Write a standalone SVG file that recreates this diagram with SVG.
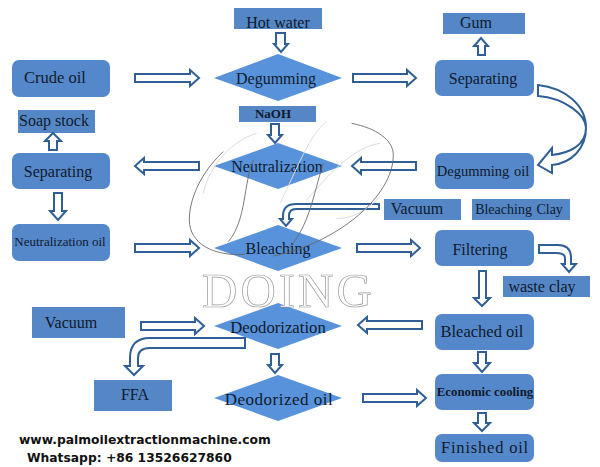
<svg xmlns="http://www.w3.org/2000/svg" width="600" height="467" viewBox="0 0 600 467">
<style>
.box{fill:#5587c6}
.rbox{fill:#5588ca}
.dia{fill:#5792db}
.t{font-family:"Liberation Serif",serif;font-size:16px;fill:#0f1a2c;text-anchor:middle}
.b{font-weight:bold}
.arr{fill:#fff;stroke:#2f5f95;stroke-width:2;stroke-linejoin:miter}
.wm{fill:none;stroke:#666;stroke-width:2.6}
.wl{fill:none;stroke:#dcdcdc;stroke-width:3}
.web{font-family:"DejaVu Sans",sans-serif;font-weight:bold;font-size:12.3px;fill:#111}
</style>
<rect width="600" height="467" fill="#fff"/>
<g id="crude-oil"><rect class="rbox" x="12" y="60" width="98" height="37" rx="7"/><text class="t" x="55" y="83" style="font-size:16.5px">Crude oil</text></g>
<g id="separating-top"><rect class="rbox" x="435" y="60" width="99" height="36" rx="7"/><text class="t" x="483" y="84">Separating</text></g>
<g id="degumming-oil"><rect class="rbox" x="435" y="153" width="99" height="36" rx="7"/><text class="t" x="483" y="176" style="font-size:14.5px;word-spacing:1px">Degumming oil</text></g>
<g id="filtering"><rect class="rbox" x="435" y="230" width="99" height="36" rx="7"/><text class="t" x="480" y="255">Filtering</text></g>
<g id="bleached-oil"><rect class="rbox" x="435" y="314" width="99" height="36" rx="7"/><text class="t" x="482" y="337" style="font-size:16.5px">Bleached oil</text></g>
<g id="economic-cooling"><rect class="rbox" x="435" y="374" width="99" height="36" rx="7"/><text class="t b" x="485" y="396" style="font-size:12.8px">Economic cooling</text></g>
<g id="finished-oil"><rect class="rbox" x="435" y="434" width="99" height="28" rx="7"/><text class="t" x="485" y="453" style="font-size:16.5px;letter-spacing:.8px">Finished oil</text></g>
<g id="separating-left"><rect class="rbox" x="12" y="153" width="98" height="36" rx="7"/><text class="t" x="58" y="177">Separating</text></g>
<g id="neutralization-oil"><rect class="rbox" x="12" y="224" width="98" height="37" rx="7"/><text class="t" x="60" y="246" style="font-size:13px">Neutralization oil</text></g>
<g id="degumming"><polygon class="dia" points="214,78 278,54 342,78 278,101"/><text class="t" x="276" y="84">Degumming</text></g>
<g id="neutralization"><polygon class="dia" points="214,166 278,143 342,166 278,189"/><text class="t" x="277" y="172">Neutralization</text></g>
<g id="bleaching"><polygon class="dia" points="214,248 278,225 342,248 278,271"/><text class="t" x="278" y="254">Bleaching</text></g>
<g id="deodorization"><polygon class="dia" points="214,326 278,303 342,326 278,349"/><text class="t" x="278" y="333" style="font-size:16.7px">Deodorization</text></g>
<g id="deodorized-oil"><polygon class="dia" points="214,398 278,375 342,398 278,421"/><text class="t" x="279" y="405" style="font-size:17px;letter-spacing:.5px">Deodorized oil</text></g>
<g id="hot-water"><rect class="box" x="234" y="8" width="88" height="21"/><text class="t" x="278" y="28">Hot water</text></g>
<g id="naoh"><rect class="box" x="239" y="106" width="77" height="16"/><text class="t b" x="273" y="118" style="font-size:13px">NaOH</text></g>
<g id="gum"><rect class="box" x="443" y="13" width="82" height="21"/><text class="t" x="476" y="28">Gum</text></g>
<g id="soap-stock"><rect class="box" x="18" y="110" width="77" height="23"/><text class="t" x="54" y="126">Soap stock</text></g>
<g id="vacuum-top"><rect class="box" x="384" y="199" width="77" height="21"/><text class="t" x="417" y="214">Vacuum</text></g>
<g id="bleaching-clay"><rect class="box" x="472" y="199" width="98" height="21"/><text class="t" x="519" y="214" style="font-size:14px;word-spacing:1px">Bleaching Clay</text></g>
<g id="waste-clay"><rect class="box" x="503" y="276" width="87" height="21"/><text class="t" x="542" y="292">waste clay</text></g>
<g id="vacuum-left"><rect class="box" x="32" y="307" width="93" height="31"/><text class="t" x="71" y="328">Vacuum</text></g>
<g id="ffa"><rect class="box" x="94" y="380" width="78" height="31"/><text class="t" x="135" y="400">FFA</text></g>
<g id="connectors">
<polygon class="arr" points="135,74 190,74 190,70 199,78 190,86 190,82 135,82"/>
<polygon class="arr" points="353,74 407,74 407,70 416,78 407,86 407,82 353,82"/>
<polygon class="arr" points="135,244 190,244 190,240 199,248 190,256 190,252 135,252"/>
<polygon class="arr" points="357,244 411,244 411,240 420,248 411,256 411,252 357,252"/>
<polygon class="arr" points="141,322 195,322 195,318 204,326 195,334 195,330 141,330"/>
<polygon class="arr" points="363,394 417,394 417,390 426,398 417,406 417,402 363,402"/>
<polygon class="arr" points="199,162 144,162 144,158 135,166 144,174 144,170 199,170"/>
<polygon class="arr" points="416,162 361,162 361,158 352,166 361,174 361,170 416,170"/>
<polygon class="arr" points="422,321 367,321 367,317 358,325 367,333 367,329 422,329"/>
<polygon class="arr" points="276,33 285,33 285,44 288,44 281,52 274,44 276,44"/>
<polygon class="arr" points="271,124 279,124 279,135 282,135 275,143 268,135 271,135"/>
<polygon class="arr" points="271,354 279,354 279,365 282,365 275,373 268,365 271,365"/>
<polygon class="arr" points="478,55 485,55 485,46 488,46 481,38 474,46 478,46"/>
<polygon class="arr" points="49,150 57,150 57,141 61,141 53,133 45,141 49,141"/>
<polygon class="arr" points="54,193 62,193 62,211 66,211 58,220 50,211 54,211"/>
<polygon class="arr" points="479,271 486,271 486,298 490,298 482,306 474,298 479,298"/>
<polygon class="arr" points="478,352 486,352 486,363 490,363 482,372 474,363 478,363"/>
<polygon class="arr" points="478,413 486,413 486,423 490,423 482,431 474,423 478,423"/>
<path class="arr" d="M379,204 L296,204 Q283,204 283,216 L283,219 L280,219 L286,226 L292,219 L289,219 L289,216 Q289,209 296,209 L379,209 Z"/>
<path class="arr" d="M539,245 L558,245 Q571,245 571,258 L571,264 L576,264 L569,272 L562,264 L565,264 L565,258 Q565,253 556,253 L539,253 Z"/>
<path class="arr" d="M245,338 L150,338 Q130,338 130,358 L130,366 L125,366 L134,375 L143,366 L138,366 L138,358 Q138,348 150,348 L245,348 Z"/>
<path class="arr" d="M538,85 C565,88 586,105 586,128 C586,145 570,153 552,155 L552,148 L538,165 L552,173 L552,165 C572,163 586,148 586,128 C586,115 565,98 538,96 Z"/>
</g>
<g id="watermark">
<g transform="translate(180,120) scale(0.3333)">
<path class="wl" d="M230,40 C160,60 90,130 70,220 M440,5 C390,40 350,150 300,250 M600,70 C520,80 440,170 380,240 M600,230 C540,290 500,295 470,295"/>
<path class="wm" d="M515,10 C590,25 640,60 640,105 C640,230 470,370 280,408"/>
<path class="wm" d="M195,403 C100,410 28,370 28,300 C28,220 80,140 130,95"/>
<path class="wm" d="M145,365 C200,300 190,190 220,120"/>
<path class="wm" d="M320,392 C390,320 400,220 430,130"/>
</g>
<text x="202" y="307" font-family="Liberation Serif,serif" font-size="49" letter-spacing="3" fill="#fff" stroke="#999" stroke-width="0.7">DOING</text>
</g>
<g id="contact">
<text class="web" x="19" y="444">www.palmoilextractionmachine.com</text>
<text class="web" x="27" y="462">Whatsapp: +86 13526627860</text>
</g>
</svg>
